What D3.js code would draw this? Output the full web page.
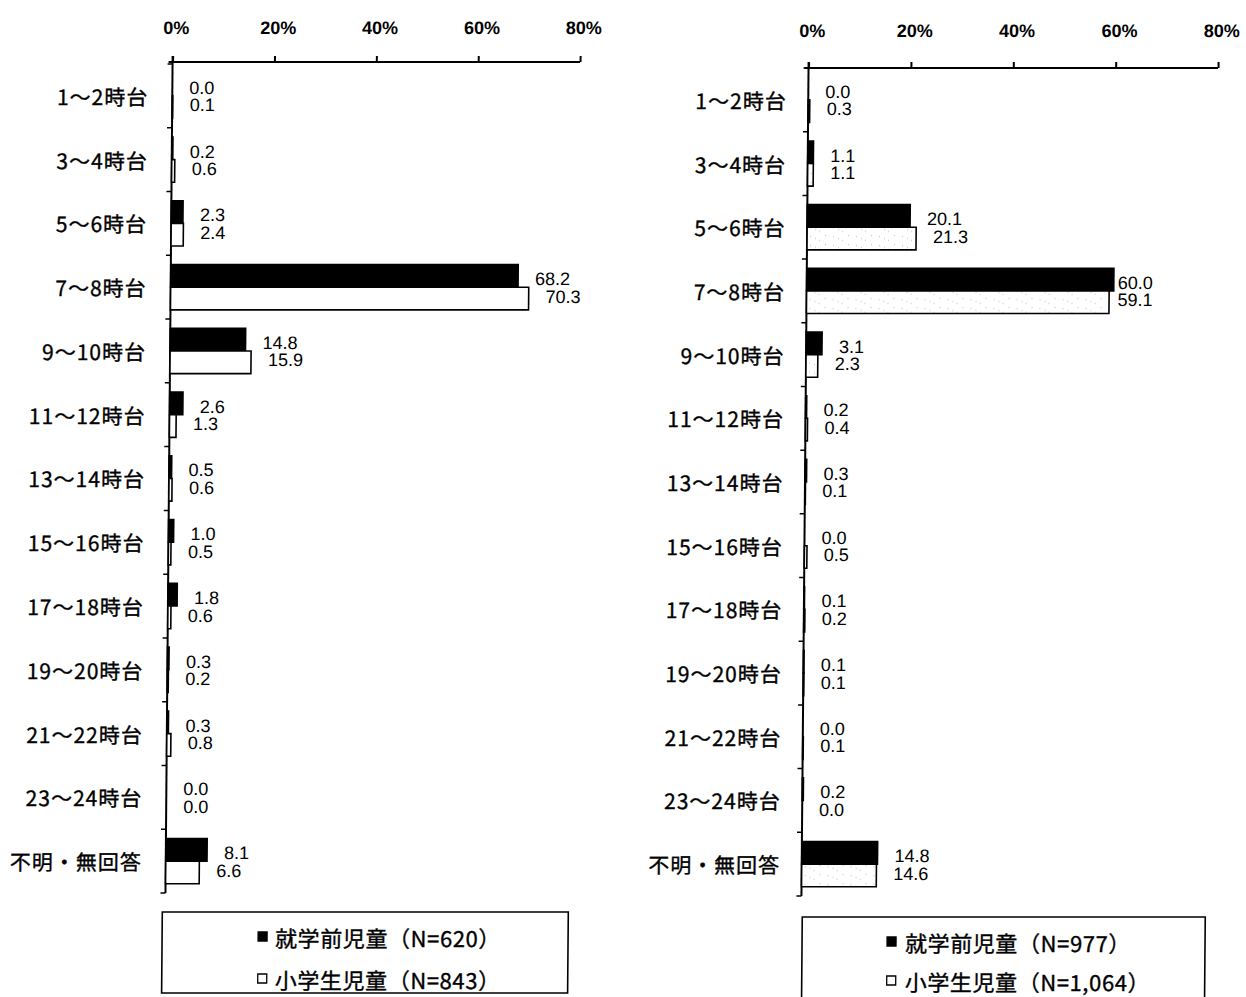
<!DOCTYPE html>
<html>
<head>
<meta charset="utf-8">
<script src="https://cdn.jsdelivr.net/npm/d3@7"></script>
<style>
  html, body { margin: 0; padding: 0; background: #fff; }
  svg { display: block; }
</style>
</head>
<body>
<svg id="chart" width="1246" height="997"></svg>
<script>
// Time-of-day categories (rows)
const categories = [
  "1～2時台", "3～4時台", "5～6時台", "7～8時台", "9～10時台",
  "11～12時台", "13～14時台", "15～16時台", "17～18時台",
  "19～20時台", "21～22時台", "23～24時台", "不明・無回答"
];

// Percent axis ticks
const tickValues = [0, 20, 40, 60, 80];

// Left panel (%)
const leftPreschool  = [0.0, 0.2, 2.3, 68.2, 14.8, 2.6, 0.5, 1.0, 1.8, 0.3, 0.3, 0.0, 8.1];
const leftElementary = [0.1, 0.6, 2.4, 70.3, 15.9, 1.3, 0.6, 0.5, 0.6, 0.2, 0.8, 0.0, 6.6];
const leftLegend = ["就学前児童（N=620）", "小学生児童（N=843）"];

// Right panel (%)
const rightPreschool  = [0.0, 1.1, 20.1, 60.0, 3.1, 0.2, 0.3, 0.0, 0.1, 0.1, 0.0, 0.2, 14.8];
const rightElementary = [0.3, 1.1, 21.3, 59.1, 2.3, 0.4, 0.1, 0.5, 0.2, 0.1, 0.1, 0.0, 14.6];
const rightLegend = ["就学前児童（N=977）", "小学生児童（N=1,064）"];

const svg = d3.select("#chart");

// light speckle texture used for the right panel's open bars
const defs = svg.append("defs");
const pat = defs.append("pattern")
  .attr("id", "speckle").attr("patternUnits", "userSpaceOnUse")
  .attr("width", 23).attr("height", 9);
pat.append("rect").attr("width", 23).attr("height", 9).attr("fill", "#fff");
[[3, 2], [12, 6], [18, 1], [8, 4]].forEach(([x, y]) => {
  pat.append("rect").attr("x", x).attr("y", y).attr("width", 1).attr("height", 1)
    .attr("fill", "#b8b8b8");
});

// the whole sheet leans slightly
const root = svg.append("g")
  .attr("transform", "translate(0,480) skewX(-0.49) translate(0,-480)");

const valueFont = "'Liberation Sans', Arial, sans-serif";
const cjkFont = "'Noto Sans CJK JP', 'Noto Sans', sans-serif";

function drawPanel(cfg) {
  const g = root.append("g");
  const x = d3.scaleLinear().domain([0, 80]).range([cfg.x0, cfg.x80]);
  const y = d3.scaleBand().domain(categories)
    .range([cfg.yTop, cfg.yBottom]).paddingInner(0.29).paddingOuter(0.145);
  const ySub = d3.scaleBand().domain([0, 1]).range([0, y.bandwidth()]);

  // top percent axis
  const axis = d3.axisTop(x).tickValues(tickValues).tickSize(6)
    .tickFormat(d => d + "%").tickPadding(cfg.tickPad);
  const ax = g.append("g").attr("transform", `translate(0,${cfg.axisY})`).call(axis);
  ax.select(".domain").attr("d", `M${cfg.x0 - 4},0H${cfg.x80}`)
    .attr("stroke", "#000").attr("stroke-width", 2);
  ax.selectAll(".tick line").attr("stroke", "#000").attr("stroke-width", 2);
  ax.selectAll(".tick text")
    .attr("font-family", valueFont).attr("font-size", 18).attr("font-weight", "bold")
    .attr("fill", "#000").attr("dx", 3);

  // category axis (left)
  g.append("line")
    .attr("x1", cfg.x0).attr("x2", cfg.x0)
    .attr("y1", cfg.axisY - 6).attr("y2", cfg.yBottom)
    .attr("stroke", "#000").attr("stroke-width", 2);
  const step = y.step();
  g.selectAll("line.cat-tick")
    .data(d3.range(categories.length + 1))
    .join("line").attr("class", "cat-tick")
    .attr("x1", cfg.x0 - 5).attr("x2", cfg.x0)
    .attr("y1", i => cfg.yTop + i * step).attr("y2", i => cfg.yTop + i * step)
    .attr("stroke", "#000").attr("stroke-width", 1.5);

  g.selectAll("text.cat")
    .data(categories).join("text").attr("class", "cat")
    .attr("x", cfg.labelX)
    .attr("y", d => y(d) + y.bandwidth() / 2)
    .attr("text-anchor", "end").attr("dominant-baseline", "central")
    .attr("font-family", cjkFont).attr("font-size", 21)
    .attr("letter-spacing", 1)
    .attr("stroke", "#000").attr("stroke-width", 0.35)
    .attr("fill", "#000").text(d => d);

  const series = [
    { values: cfg.preschool, fill: "#000", dy: -8 },
    { values: cfg.elementary, fill: cfg.openFill, dy: 9.5 }
  ];

  series.forEach((s, si) => {
    g.selectAll(`rect.s${si}`)
      .data(categories).join("rect").attr("class", `s${si}`)
      .attr("x", cfg.x0)
      .attr("y", d => y(d) + ySub(si))
      .attr("width", (d, i) => Math.max(0, x(s.values[i]) - cfg.x0))
      .attr("height", ySub.bandwidth())
      .attr("fill", s.fill)
      .attr("stroke", "#000").attr("stroke-width", 1.6);

    g.selectAll(`text.v${si}`)
      .data(categories).join("text").attr("class", `v${si}`)
      .attr("x", (d, i) => Math.min(x(s.values[i]) + 17, cfg.labelMax))
      .attr("y", d => y(d) + y.bandwidth() / 2 + s.dy)
      .attr("dominant-baseline", "central")
      .attr("font-family", valueFont).attr("font-size", 18)
      .attr("fill", "#000")
      .text((d, i) => s.values[i].toFixed(1));
  });

  // legend box
  const lg = g.append("g");
  lg.append("rect")
    .attr("x", cfg.legend.x).attr("y", cfg.legend.y)
    .attr("width", cfg.legend.w).attr("height", cfg.legend.h)
    .attr("fill", "none").attr("stroke", "#000").attr("stroke-width", 1.6);
  cfg.legendLabels.forEach((label, i) => {
    const cy = cfg.legend.itemY[i];
    lg.append("rect")
      .attr("x", cfg.legend.sx).attr("y", cy - 5)
      .attr("width", 9).attr("height", 9)
      .attr("fill", i === 0 ? "#000" : "#fff")
      .attr("stroke", "#000").attr("stroke-width", 1.3);
    lg.append("text")
      .attr("x", cfg.legend.tx).attr("y", cy)
      .attr("dominant-baseline", "central")
      .attr("font-family", cjkFont).attr("font-size", 22)
      .attr("letter-spacing", 0.6)
      .attr("stroke", "#000").attr("stroke-width", 0.35)
      .attr("fill", "#000").text(label);
  });
}

drawPanel({
  x0: 169, x80: 576.5, axisY: 62, yTop: 64, yBottom: 893,
  tickPad: 22, labelX: 145, labelMax: 10000,
  preschool: leftPreschool, elementary: leftElementary, openFill: "#fff",
  legendLabels: leftLegend,
  legend: { x: 166, y: 912, w: 406, h: 81, sx: 262, tx: 279, itemY: [937, 979] }
});

drawPanel({
  x0: 805, x80: 1214.5, axisY: 68, yTop: 68, yBottom: 896,
  tickPad: 25, labelX: 783.5, labelMax: 1116,
  preschool: rightPreschool, elementary: rightElementary, openFill: "url(#speckle)",
  legendLabels: rightLegend,
  legend: { x: 806, y: 917, w: 403, h: 100, sx: 891, tx: 909, itemY: [942, 981] }
});
</script>
</body>
</html>
